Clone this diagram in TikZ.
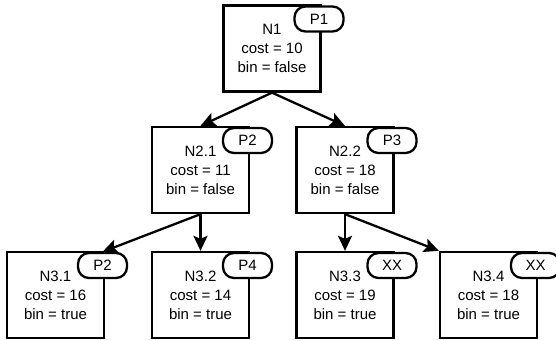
\documentclass[tikz,border=0pt]{standalone}
\usepackage{fontspec}
\setmainfont{Liberation Sans}
\usetikzlibrary{arrows.meta}

\begin{document}
\begin{tikzpicture}[x=1pt, y=-1pt,
    box/.style={draw, line width=2.3pt, fill=white, minimum width=97pt, minimum height=86pt,
      inner sep=0pt, align=center, font=\fontsize{15}{19}\selectfont},
    tag/.style={draw, line width=2.3pt, fill=white, rounded corners=11pt, minimum width=49pt,
      minimum height=25pt, inner sep=0pt, font=\fontsize{15}{16}\selectfont, anchor=north east},
    edge/.style={line width=2.3pt, -{Stealth[length=15pt, width=14pt, inset=3pt]}}]
  \useasboundingbox (0,0) rectangle (556,340);
  % Nodes of the tree
  \node[box] (n1)  at (272,48.5)  {N1\\cost = 10\\bin = false};
  \node[box] (n21) at (200.5,170) {N2.1\\cost = 11\\bin = false};
  \node[box] (n22) at (345,170)   {N2.2\\cost = 18\\bin = false};
  \node[box] (n31) at (55.5,295)  {N3.1\\cost = 16\\bin = true};
  \node[box] (n32) at (200.5,295) {N3.2\\cost = 14\\bin = true};
  \node[box] (n33) at (345,295)   {N3.3\\cost = 19\\bin = true};
  \node[box] (n34) at (488.5,295) {N3.4\\cost = 18\\bin = true};
  % Tags on the corners
  \node[tag] (t1)  at ([xshift=23pt, yshift=-1pt]n1.north east)  {P1};
  \node[tag] (t21) at ([xshift=23pt, yshift=-1pt]n21.north east) {P2};
  \node[tag] (t22) at ([xshift=23pt, yshift=-1pt]n22.north east) {P3};
  \node[tag] (t31) at ([xshift=23pt, yshift=-1pt]n31.north east) {P2};
  \node[tag] (t32) at ([xshift=23pt, yshift=-1pt]n32.north east) {P4};
  \node[tag] (t33) at ([xshift=23pt, yshift=-1pt]n33.north east) {XX};
  \node[tag] (t34) at ([xshift=23pt, yshift=-1pt]n34.north east) {XX};
  % Edges
  \draw[edge] (n1.south) -- (n21.north);
  \draw[edge] (n1.south) -- (n22.north);
  \draw[edge] (n21.south) -- (t31.north);
  \draw[edge] (n21.south) -- (n32.north);
  \draw[edge] (n22.south) -- (n33.north);
  \draw[edge] (n22.south) -- (n34.north west);
\end{tikzpicture}
\end{document}
